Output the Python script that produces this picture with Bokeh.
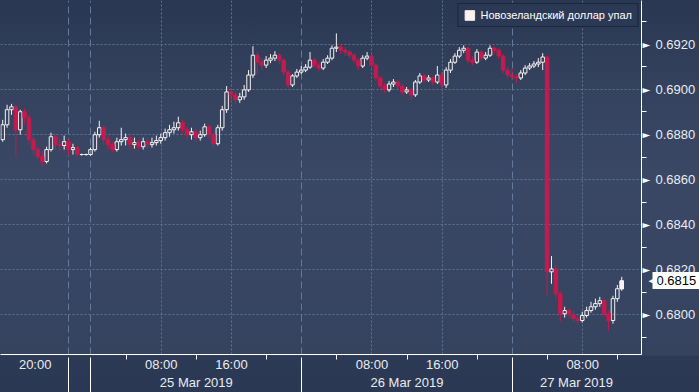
import numpy as np
from bokeh.plotting import figure
from bokeh.models import (Range1d, FixedTicker, LinearAxis, Grid, ColumnDataSource, CDSView, IndexFilter,
                          Legend, LegendItem, CustomJSTickFormatter, PrintfTickFormatter)
from bokeh.embed import file_html
from bokeh.resources import INLINE

title = "Новозеландский доллар упал"

# 30-minute NZD/USD candles (session hours, weekend compressed)
first_open = 0.68777
close = [0.68843, 0.68910, 0.68923, 0.68821, 0.68901, 0.68874, 0.68777, 0.68733, 0.68702, 0.68680,
         0.68733, 0.68790, 0.68755, 0.68751, 0.68768, 0.68733, 0.68742, 0.68711, 0.68711, 0.68711,
         0.68733, 0.68799, 0.68830, 0.68777, 0.68755, 0.68733, 0.68768, 0.68777, 0.68786, 0.68755,
         0.68764, 0.68746, 0.68768, 0.68755, 0.68764, 0.68773, 0.68786, 0.68808, 0.68821, 0.68830,
         0.68852, 0.68821, 0.68799, 0.68812, 0.68786, 0.68799, 0.68834, 0.68799, 0.68759, 0.68830,
         0.68910, 0.68989, 0.68976, 0.68954, 0.68967, 0.68998, 0.69064, 0.69152, 0.69121, 0.69108,
         0.69130, 0.69139, 0.69152, 0.69130, 0.69077, 0.69020, 0.69060, 0.69077, 0.69086, 0.69099,
         0.69130, 0.69108, 0.69095, 0.69121, 0.69139, 0.69183, 0.69188, 0.69174, 0.69166, 0.69152,
         0.69130, 0.69104, 0.69139, 0.69148, 0.69108, 0.69051, 0.69015, 0.68998, 0.69024, 0.69033,
         0.69015, 0.68989, 0.68998, 0.68976, 0.69033, 0.69060, 0.69042, 0.69051, 0.69033, 0.69064,
         0.69020, 0.69086, 0.69121, 0.69148, 0.69174, 0.69183, 0.69130, 0.69121, 0.69166, 0.69139,
         0.69152, 0.69183, 0.69174, 0.69148, 0.69086, 0.69064, 0.69055, 0.69051, 0.69073, 0.69095,
         0.69104, 0.69113, 0.69121, 0.69144, 0.68190, 0.68203, 0.68093, 0.68004, 0.68018, 0.68000,
         0.67982, 0.67974, 0.67996, 0.68018, 0.68035, 0.68049, 0.68062, 0.68004, 0.67974, 0.68071,
         0.68115, 0.68150]
high = [0.68865, 0.68932, 0.68936, 0.68932, 0.68910, 0.68918, 0.68887, 0.68790, 0.68746, 0.68724,
        0.68746, 0.68808, 0.68804, 0.68777, 0.68795, 0.68777, 0.68759, 0.68751, 0.68715, 0.68715,
        0.68742, 0.68812, 0.68861, 0.68839, 0.68795, 0.68768, 0.68786, 0.68830, 0.68804, 0.68799,
        0.68786, 0.68777, 0.68786, 0.68786, 0.68786, 0.68795, 0.68804, 0.68826, 0.68843, 0.68857,
        0.68879, 0.68865, 0.68834, 0.68830, 0.68826, 0.68817, 0.68848, 0.68843, 0.68808, 0.68843,
        0.68927, 0.69015, 0.69007, 0.68989, 0.68985, 0.69020, 0.69086, 0.69192, 0.69166, 0.69139,
        0.69148, 0.69157, 0.69170, 0.69161, 0.69139, 0.69086, 0.69068, 0.69091, 0.69104, 0.69113,
        0.69166, 0.69139, 0.69121, 0.69135, 0.69152, 0.69196, 0.69249, 0.69201, 0.69188, 0.69174,
        0.69161, 0.69139, 0.69152, 0.69166, 0.69157, 0.69117, 0.69060, 0.69029, 0.69038, 0.69046,
        0.69042, 0.69024, 0.69011, 0.69007, 0.69042, 0.69073, 0.69068, 0.69064, 0.69060, 0.69104,
        0.69077, 0.69099, 0.69135, 0.69161, 0.69188, 0.69196, 0.69192, 0.69148, 0.69179, 0.69174,
        0.69166, 0.69196, 0.69192, 0.69183, 0.69157, 0.69099, 0.69095, 0.69068, 0.69086, 0.69108,
        0.69117, 0.69126, 0.69139, 0.69161, 0.69152, 0.68260, 0.68221, 0.68106, 0.68035, 0.68031,
        0.68018, 0.67996, 0.68013, 0.68035, 0.68057, 0.68071, 0.68079, 0.68071, 0.68018, 0.68084,
        0.68132, 0.68168]
low = [0.68768, 0.68830, 0.68887, 0.68702, 0.68799, 0.68843, 0.68755, 0.68711, 0.68689, 0.68658,
       0.68671, 0.68724, 0.68733, 0.68724, 0.68733, 0.68706, 0.68711, 0.68698, 0.68706, 0.68706,
       0.68706, 0.68724, 0.68786, 0.68755, 0.68733, 0.68720, 0.68724, 0.68751, 0.68751, 0.68733,
       0.68737, 0.68728, 0.68733, 0.68737, 0.68742, 0.68751, 0.68759, 0.68773, 0.68790, 0.68804,
       0.68817, 0.68804, 0.68777, 0.68777, 0.68768, 0.68773, 0.68790, 0.68781, 0.68742, 0.68751,
       0.68817, 0.68896, 0.68945, 0.68936, 0.68940, 0.68954, 0.68989, 0.69051, 0.69064, 0.69086,
       0.69095, 0.69117, 0.69126, 0.69113, 0.69060, 0.69007, 0.69011, 0.69051, 0.69068, 0.69077,
       0.69091, 0.69095, 0.69082, 0.69086, 0.69113, 0.69130, 0.69166, 0.69157, 0.69148, 0.69139,
       0.69117, 0.69086, 0.69095, 0.69130, 0.69095, 0.69038, 0.69002, 0.68985, 0.68989, 0.69011,
       0.69002, 0.68976, 0.68980, 0.68954, 0.68967, 0.69024, 0.69029, 0.69033, 0.69020, 0.69024,
       0.68989, 0.69007, 0.69073, 0.69113, 0.69139, 0.69161, 0.69117, 0.69108, 0.69113, 0.69126,
       0.69130, 0.69144, 0.69157, 0.69135, 0.69073, 0.69051, 0.69042, 0.69029, 0.69042, 0.69064,
       0.69086, 0.69095, 0.69099, 0.69086, 0.68084, 0.68137, 0.68071, 0.67969, 0.67987, 0.67982,
       0.67969, 0.67956, 0.67965, 0.67987, 0.68009, 0.68022, 0.68035, 0.67991, 0.67929, 0.67960,
       0.68057, 0.68106]

slot_hours = 0.5
x_end = 73.0
hour_label_pos = [3.95, 18.3, 26.3, 42.3, 50.3, 66.3]
hour_labels = ["20:00", "08:00", "16:00", "08:00", "16:00", "08:00"]
hour_minor_pos = [14.3, 22.3, 30.3, 38.3, 46.3, 54.3, 62.3, 70.3]
day_bounds = [7.7, 10.3, 34.3, 58.3]
day_label_pos = [22.3, 46.3, 65.6]
day_labels = ["25 Mar 2019", "26 Mar 2019", "27 Mar 2019"]
y_major = [0.6800, 0.6820, 0.6840, 0.6860, 0.6880, 0.6900, 0.6920]
y_minor = [0.6790, 0.6810, 0.6830, 0.6850, 0.6870, 0.6890, 0.6910, 0.6930]

UP = "#f6f2f2"
DOWN = "#c41a4d"
GRID = "#61748f"
TXT = "#e9ecf0"
FONT = "Liberation Sans"
BODY_W = 0.4

n = len(close)
x = (np.arange(n) + 0.5) * slot_hours
o = np.array([first_open] + close[:-1])
c = np.array(close)
h = np.array(high)
l = np.array(low)
up = c >= o
top = np.maximum(o, c)
bot = np.minimum(o, c)

src_up = ColumnDataSource(dict(x=x[up], top=top[up], bot=bot[up], hi=h[up], lo=l[up]))
src_dn = ColumnDataSource(dict(x=x[~up], top=top[~up], bot=bot[~up], hi=h[~up], lo=l[~up]))

p = figure(width=699, height=392, x_range=Range1d(0, x_end), y_range=Range1d(0.67823, 0.69395),
           output_backend="svg", toolbar_location=None,
           x_axis_location=None, y_axis_location=None,
           min_border_left=0, min_border_right=53, min_border_top=0, min_border_bottom=36)
p.center = [r for r in p.center if not isinstance(r, Grid)]
p.background_fill_color = None
p.border_fill_color = None
p.outline_line_color = None
p.styles = {"background": "linear-gradient(to bottom, #2a3752 0%, #34425e 22%, #3a4866 45%, #35435f 90.6%, #2d3a55 90.9%, #2b3853 100%)"}

# grids
p.add_layout(Grid(dimension=1, ticker=FixedTicker(ticks=y_major), grid_line_color=GRID,
                  grid_line_dash="2 2", grid_line_width=1))
p.add_layout(Grid(dimension=0, ticker=FixedTicker(ticks=hour_label_pos[1:]), grid_line_color=GRID,
                  grid_line_dash="2 2", grid_line_width=1))
p.add_layout(Grid(dimension=0, ticker=FixedTicker(ticks=day_bounds), grid_line_color="#63789a",
                  grid_line_dash="7 4", grid_line_width=1))

# candles
p.segment(x0="x", y0="hi", x1="x", y1="top", source=src_up, line_color=UP, line_width=1)
p.segment(x0="x", y0="bot", x1="x", y1="lo", source=src_up, line_color=UP, line_width=1)
p.vbar(x="x", width=BODY_W, top="top", bottom="bot", source=src_up,
       fill_alpha=0, line_color=UP, line_width=1)
p.segment(x0="x", y0="hi", x1="x", y1="lo", source=src_dn, line_color=DOWN, line_width=1)
p.vbar(x="x", width=BODY_W, top="top", bottom="bot", source=src_dn,
       fill_color=DOWN, line_color=DOWN, line_width=1)

# legend swatch: the latest (up) candle drawn filled, used as legend glyph
n_up = int(np.count_nonzero(up))
swatch = p.vbar(x="x", width=BODY_W, top="top", bottom="bot", source=src_up,
                view=CDSView(filter=IndexFilter(indices=[n_up - 1])),
                fill_color="#fbf1ee", line_color="#fbf1ee")
legend = Legend(items=[LegendItem(label=title, renderers=[swatch])], location="top_right",
                label_text_font=FONT, label_text_font_size="11px", label_text_color="white",
                glyph_width=12, glyph_height=12, label_height=12, label_standoff=5,
                padding=5, spacing=0, margin=3,
                border_line_color="#0f1420", border_line_width=1,
                background_fill_color="#2c3955", background_fill_alpha=1)
p.add_layout(legend)

# bottom axes
ax_hours = LinearAxis(ticker=FixedTicker(ticks=hour_label_pos, minor_ticks=hour_minor_pos),
                      major_label_overrides=dict(zip(hour_label_pos, hour_labels)),
                      major_tick_out=0, major_tick_in=0, minor_tick_out=5, minor_tick_in=0,
                      minor_tick_line_color="white", axis_line_color="white",
                      major_label_standoff=-3, major_label_text_font=FONT,
                      major_label_text_font_size="13px", major_label_text_color=TXT)
p.add_layout(ax_hours, "below")
ax_days = LinearAxis(ticker=FixedTicker(ticks=day_label_pos, minor_ticks=day_bounds),
                     major_label_overrides=dict(zip(day_label_pos, day_labels)),
                     axis_line_color=None, major_tick_line_color=None,
                     major_tick_out=0, major_tick_in=0, minor_tick_in=17, minor_tick_out=20,
                     minor_tick_line_color="white", major_label_standoff=-20,
                     major_label_text_font=FONT, major_label_text_font_size="13px",
                     major_label_text_color=TXT)
p.add_layout(ax_days, "below")

# right axes
ax_arrow = LinearAxis(ticker=FixedTicker(ticks=y_major, minor_ticks=y_minor),
                      formatter=CustomJSTickFormatter(code="return '\u25BA'"),
                      axis_line_color="white", major_tick_out=0, major_tick_in=0,
                      minor_tick_out=5, minor_tick_in=0, minor_tick_line_color="white",
                      major_label_standoff=-4, major_label_text_font="DejaVu Sans",
                      major_label_text_font_size="10px", major_label_text_color="white")
p.add_layout(ax_arrow, "right")
ax_price = LinearAxis(ticker=FixedTicker(ticks=y_major), formatter=PrintfTickFormatter(format="%.4f"),
                      axis_line_color=None, major_tick_line_color=None, minor_tick_line_color=None,
                      major_tick_out=0, major_tick_in=0, minor_tick_out=0, minor_tick_in=0,
                      major_label_standoff=2, major_label_text_font=FONT,
                      major_label_text_font_size="13px", major_label_text_color=TXT)
p.add_layout(ax_price, "right")

# last price tag: a thick white tick pointing back to the frame, with the price printed over it
last_price = close[-1]
ax_tag = LinearAxis(ticker=FixedTicker(ticks=[last_price], minor_ticks=[]),
                    formatter=PrintfTickFormatter(format="%.4f"),
                    axis_line_color=None, minor_tick_line_color=None,
                    major_tick_in=46, major_tick_out=1, minor_tick_out=0, minor_tick_in=0,
                    major_tick_line_color="white", major_tick_line_width=17,
                    major_label_standoff=-43, major_label_text_font=FONT,
                    major_label_text_font_size="13px", major_label_text_color="black")
p.add_layout(ax_tag, "right")
# pointed left end of the tag
ax_notch = LinearAxis(ticker=FixedTicker(ticks=[last_price], minor_ticks=[]),
                      formatter=CustomJSTickFormatter(code="return '\u25C0'"),
                      axis_line_color=None, major_tick_line_color=None, minor_tick_line_color=None,
                      major_tick_in=0, major_tick_out=0, minor_tick_out=0, minor_tick_in=0,
                      major_label_standoff=-51, major_label_text_font="DejaVu Sans",
                      major_label_text_font_size="11px", major_label_text_color="white")
p.add_layout(ax_notch, "right")

open("out.html", "w").write(file_html(p, INLINE))
